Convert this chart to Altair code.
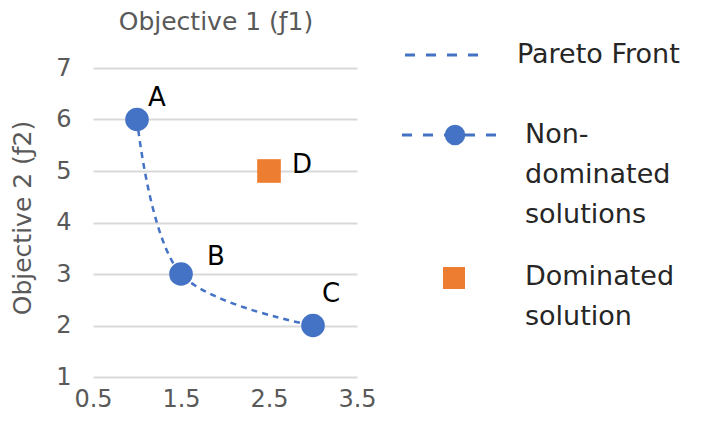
import altair as alt
import pandas as pd

# ---- data ----
nd_names = ["A", "B", "C"]
nd_f1 = [1.0, 1.5, 3.0]
nd_f2 = [6.0, 3.0, 2.0]
d_names = ["D"]
d_f1 = [2.5]
d_f2 = [5.0]
x_ticks = [0.5, 1.5, 2.5, 3.5]
y_ticks = [1, 2, 3, 4, 5, 6, 7]
legend_entries = ["Pareto Front", "Non-\ndominated\nsolutions", "Dominated\nsolution"]
x_title = "Objective 1 (ƒ1)"
y_title = "Objective 2 (ƒ2)"

BLUE = "#4472C4"
ORANGE = "#ED7D31"
GRID = "#D9D9D9"
GREY = "#595959"
FONT = "DejaVu Sans"

nd = pd.DataFrame({"name": nd_names, "f1": nd_f1, "f2": nd_f2})
dd = pd.DataFrame({"name": d_names, "f1": d_f1, "f2": d_f2})
one = pd.DataFrame({"k": [0]})

xs = alt.Scale(domain=[0.5, 3.5], nice=False, zero=False)
ys = alt.Scale(domain=[1, 7], nice=False, zero=False)

X = alt.X("f1:Q", scale=xs, axis=alt.Axis(values=x_ticks, format=".1f", grid=False, domain=False,
                                           ticks=False, labelFontSize=24, labelColor=GREY, labelFont=FONT,
                                           labelPadding=10, title=None, labelFlush=False))
Y = alt.Y("f2:Q", scale=ys, axis=alt.Axis(values=y_ticks, grid=True, gridColor=GRID, gridWidth=2,
                                           domain=False, ticks=False, labelFontSize=24, labelColor=GREY,
                                           labelFont=FONT, labelPadding=22, title=None, labelFlush=False))

line = alt.Chart(nd).mark_line(interpolate="catmull-rom", strokeDash=[6, 5], strokeWidth=2.5,
                               color=BLUE).encode(x=X, y=Y)
pts = alt.Chart(nd).mark_circle(size=560, color=BLUE, opacity=1).encode(x="f1:Q", y="f2:Q")
dom = alt.Chart(dd).mark_square(size=560, color=ORANGE, opacity=1).encode(x="f1:Q", y="f2:Q")

label_offsets = {"A": (20, -22), "B": (35, -17), "C": (18, -32), "D": (33, -6)}
labels = []
for name, (dx, dy) in label_offsets.items():
    src = nd if name in nd_names else dd
    labels.append(
        alt.Chart(src).transform_filter(alt.datum.name == name)
        .mark_text(dx=dx, dy=dy, fontSize=26, font=FONT, color="#000000")
        .encode(x="f1:Q", y="f2:Q", text="name:N")
    )

# titles (plot origin is at page (93, 68))
top_title = alt.Chart(one).mark_text(text=x_title, fontSize=25, font=FONT, color=GREY,
                                     align="center", baseline="middle").encode(
    x=alt.value(123), y=alt.value(-46))
left_title = alt.Chart(one).mark_text(text=y_title, fontSize=25, font=FONT, color=GREY, angle=270,
                                      align="center", baseline="middle").encode(
    x=alt.value(-70), y=alt.value(150))

# legend
leg = []
leg.append(alt.Chart(one).mark_rule(strokeDash=[10, 11], strokeWidth=3, color=BLUE).encode(
    x=alt.value(312), x2=alt.value(392), y=alt.value(-13)))
leg.append(alt.Chart(one).mark_rule(strokeDash=[10, 11], strokeWidth=3, color=BLUE).encode(
    x=alt.value(309), x2=alt.value(405), y=alt.value(67)))
leg.append(alt.Chart(one).mark_circle(size=420, color=BLUE, opacity=1).encode(
    x=alt.value(362), y=alt.value(67)))
leg.append(alt.Chart(one).mark_square(size=484, color=ORANGE, opacity=1).encode(
    x=alt.value(361), y=alt.value(210)))
entry_pos = [(424, -13), (432, 67), (432, 209)]
for entry, (lx, ly) in zip(legend_entries, entry_pos):
    for i, ln in enumerate(entry.split("\n")):
        leg.append(alt.Chart(one).mark_text(text=ln, fontSize=27, font=FONT, color="#262626",
                                            align="left", baseline="middle").encode(
            x=alt.value(lx), y=alt.value(ly + i * 40)))

chart = alt.layer(line, pts, dom, *labels, top_title, left_title, *leg).properties(
    width=264, height=309,
    autosize=alt.AutoSizeParams(type="none"),
    padding={"left": 85, "top": 60, "right": 349, "bottom": 39},
).configure_view(stroke=None)

chart.save("out.html", embed_options={"renderer": "svg", "actions": False})
